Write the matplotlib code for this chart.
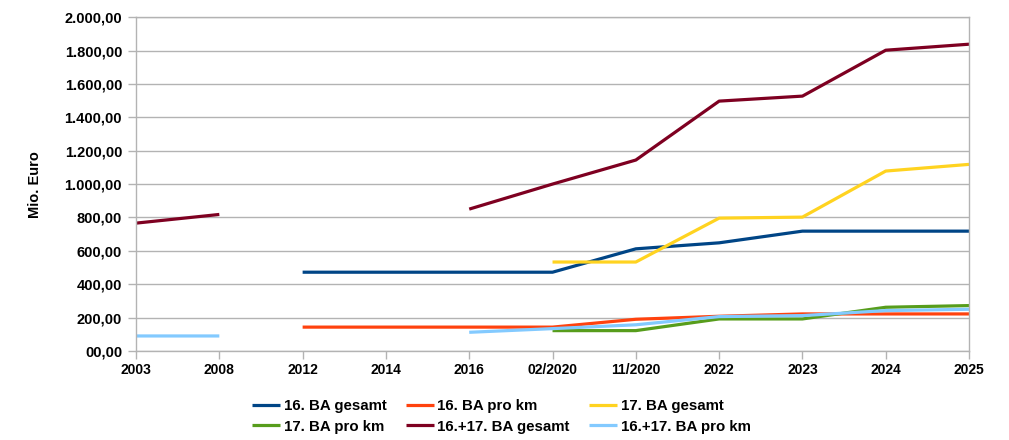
import numpy as np
import matplotlib.pyplot as plt
from matplotlib.ticker import FuncFormatter

nan = np.nan

categories = ['2003', '2008', '2012', '2014', '2016', '02/2020', '11/2020',
              '2022', '2023', '2024', '2025']

ba16_gesamt = [nan, nan, 472, 472, 472, 472, 612, 648, 718, 718, 718]
ba16_km = [nan, nan, 143, 143, 143, 143, 190, 208, 222, 222, 222]
ba17_gesamt = [nan, nan, nan, nan, nan, 533, 533, 796, 802, 1078, 1118]
ba17_km = [nan, nan, nan, nan, nan, 122, 122, 192, 192, 262, 272]
ba1617_gesamt = [766, 818, nan, nan, 850, 1000, 1144, 1497, 1527, 1802, 1838]
ba1617_km = [90, 90, nan, nan, 112, 134, 157, 206, 212, 242, 250]

series = [
    ('16. BA gesamt', ba16_gesamt, '#004586'),
    ('16. BA pro km', ba16_km, '#ff420e'),
    ('17. BA gesamt', ba17_gesamt, '#ffd320'),
    ('17. BA pro km', ba17_km, '#579d1c'),
    ('16.+17. BA gesamt', ba1617_gesamt, '#7e0021'),
    ('16.+17. BA pro km', ba1617_km, '#83caff'),
]

plt.rcParams['font.family'] = ['Liberation Sans', 'DejaVu Sans']
plt.rcParams['font.weight'] = 'bold'

fig = plt.figure(figsize=(10.09, 4.4), dpi=100)
ax = fig.add_axes([0.1348, 0.2023, 0.9604 - 0.1348, 0.961 - 0.2023])

x = np.arange(len(categories))
handles = []
for name, vals, col in series:
    h, = ax.plot(x, vals, color=col, linewidth=2.3, label=name, solid_capstyle='butt')
    handles.append(h)

ax.set_xlim(0, len(categories) - 1)
ax.set_ylim(0, 2000)
ax.set_yticks(np.arange(0, 2001, 200))
ax.set_xticks(x)
ax.set_xticklabels(categories, fontsize=10, fontweight='bold')


def de_fmt(v, pos):
    s = f'{v:,.2f}'.replace(',', 'X').replace('.', ',').replace('X', '.')
    if v == 0:
        s = '00,00'
    return s


ax.yaxis.set_major_formatter(FuncFormatter(de_fmt))
for lab in ax.get_yticklabels():
    lab.set_fontsize(10.5)
    lab.set_fontweight('bold')

ax.grid(axis='y', color='#b3b3b3', linewidth=1)
ax.set_axisbelow(True)
for sp in ax.spines.values():
    sp.set_color('#b3b3b3')
    sp.set_linewidth(1)
ax.tick_params(axis='both', color='#b3b3b3', length=6, width=1)
ax.tick_params(axis='y', pad=4)
ax.tick_params(axis='x', pad=3)

ax.set_ylabel('Mio. Euro', fontsize=10.5, fontweight='bold', labelpad=16)

order = [0, 3, 1, 4, 2, 5]
fig.legend([handles[i] for i in order], [series[i][0] for i in order],
           ncol=3, frameon=False, loc='center', bbox_to_anchor=(0.497, 0.054),
           fontsize=10.8, handlelength=1.85, handletextpad=0.25,
           columnspacing=1.3, labelspacing=0.45)

fig.savefig('out.png', dpi=100)
